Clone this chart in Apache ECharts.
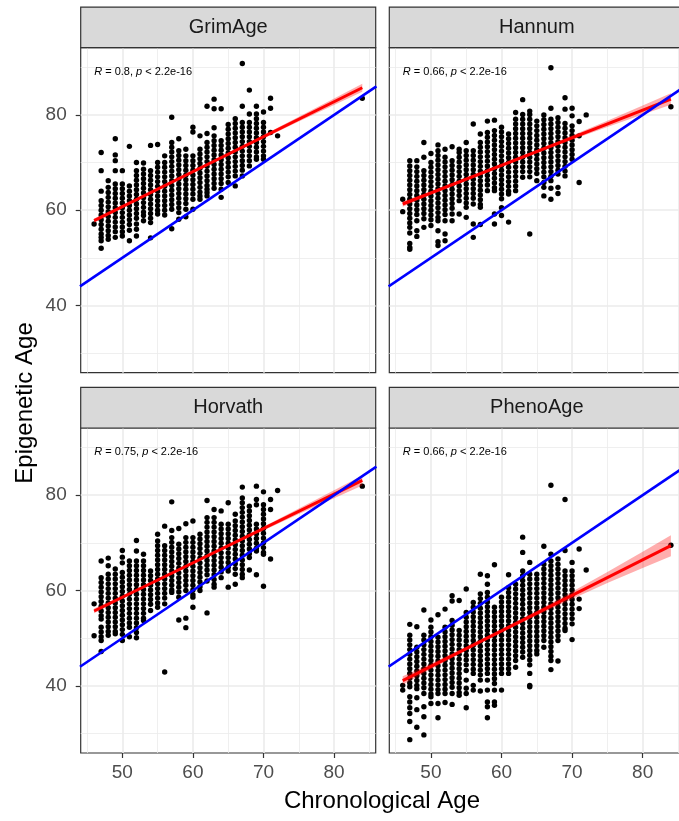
<!DOCTYPE html>
<html>
<head>
<meta charset="utf-8">
<script src="https://cdn.jsdelivr.net/npm/echarts@6/dist/echarts.min.js"></script>
<style>
html, body { margin: 0; padding: 0; background: #fff; }
#main { width: 679px; height: 821px; }
</style>
</head>
<body>
<div id="main"></div>
<script>
/* data */
var panelNames = ['GrimAge', 'Hannum', 'Horvath', 'PhenoAge'];
var corrValues = ['0.8', '0.66', '0.75', '0.66'];
var xMajor = [50, 60, 70, 80];
var xMinor = [45, 55, 65, 75, 85];
var yMajor = [40, 60, 80];
var yMinor = [30, 50, 70, 90];

// [chronological age, [epigenetic ages]]
var grimCols = [
    [46, [57.1]],
    [47, [72.1, 68.3, 64, 62, 61, 60, 59, 58, 57, 56, 55, 54.3, 53.6, 52]],
    [48, [66.2, 64.8, 63.7, 62.7, 61.7, 60.7, 59.7, 58.7, 57.7, 56.7, 55.7, 54.7, 53.9]],
    [49, [75, 71.6, 70.4, 68.3, 65.5, 64.5, 63.5, 62.5, 61.5, 60.5, 59.5, 58.5, 57.5, 56.5, 55.5, 54.3]],
    [50, [68.3, 65.5, 64.5, 63.5, 62.5, 61.5, 60.5, 59.5, 58.5, 57.5, 56.5, 55.5, 54.6]],
    [51, [73.4, 65.1, 64, 63, 62, 61, 60, 59, 58, 57, 55.8, 53.6]],
    [52, [70, 68.3, 67.3, 66.3, 65.3, 64.3, 63.3, 62.3, 61.3, 60.3, 59.3, 58.3, 57.1, 56, 54.6]],
    [53, [69.9, 68.6, 67.6, 66.6, 65.6, 64.6, 63.6, 62.6, 61.6, 60.6, 59.6, 58.9, 57.8]],
    [54, [73.6, 68.3, 67.3, 66.3, 65.3, 64.3, 63.3, 62.3, 61.3, 60.3, 59.3, 58.3, 57.4, 54.2]],
    [55, [73.8, 70, 69, 68, 67, 66, 65, 64, 63, 62, 61, 60, 59.2]],
    [56, [71.4, 70, 69, 68, 67, 66, 65, 64, 63, 62, 61, 60, 59]],
    [57, [79.5, 74.2, 73.2, 72.2, 71.2, 70.2, 69.2, 68.2, 67.2, 66.2, 65.2, 64.2, 63.2, 62.2, 61.2, 60.2, 56.1]],
    [58, [75, 72.5, 71.5, 70.5, 69.5, 68.5, 67.5, 66.5, 65.5, 64.5, 63.5, 62.5, 61.5, 60.5, 59.5, 58.1]],
    [59, [72.8, 71.4, 70.4, 69.4, 68.4, 67.4, 66.4, 65.4, 64.4, 63.4, 62.4, 61.4, 60.2, 58.6]],
    [60, [77.4, 76.4, 71.4, 70.4, 69.4, 68.4, 67.4, 66.4, 65.4, 64.4, 63.4, 62.3, 60.2]],
    [61, [75.6, 72.8, 71.8, 70.8, 69.8, 68.8, 67.8, 66.8, 65.8, 64.8, 63.8, 63, 62.3]],
    [62, [81.8, 76.1, 74.2, 73.2, 72.2, 71.2, 70.2, 69.2, 68.2, 67.2, 66.2, 65.2, 64.4, 63.7, 63]],
    [63, [83.3, 81.3, 77.3, 75.6, 74.6, 73.6, 72.6, 71.6, 70.6, 69.6, 68.6, 67.6, 66.6, 65.6, 64.6]],
    [64, [81.3, 74.6, 73.6, 72.6, 71.6, 70.6, 69.6, 68.6, 67.6, 66.6, 65.6, 64.4, 62.7]],
    [65, [78, 77, 76, 75, 74, 73, 72, 71, 70, 69, 68, 67, 65.8]],
    [66, [79.2, 78.2, 77.2, 76.2, 75.2, 74.2, 73.2, 72.2, 71.2, 70.2, 69.2, 68.2, 67.2, 65.1]],
    [67, [90.8, 81.8, 78.4, 77.4, 76.4, 75.4, 74.4, 73.4, 72.4, 71.4, 70.4, 69.4, 68.4, 67.2]],
    [68, [85.2, 80.2, 78.4, 77.4, 76.4, 75.4, 74.4, 73.4, 72.4, 71.4, 70.4, 69.3]],
    [69, [81.8, 80.2, 79.2, 78.2, 77.2, 76.2, 75.2, 74.2, 73.2, 72.2, 71.2, 70.7]],
    [70, [80.6, 78.4, 77.4, 76.4, 75.4, 74.4, 73.4, 72.4, 71.4, 70.7]],
    [71, [83.5, 81.4, 76.3]],
    [72, [75.6]],
    [84, [83.5]]
];

var hannumCols = [
    [46, [62.3, 59.7]],
    [47, [70.4, 69.3, 68.3, 67.3, 66.3, 65.3, 64.3, 63.3, 62.3, 61.3, 60.3, 59.3, 58.3, 57.3, 56.4, 55.2, 53, 52.2, 51.8]],
    [48, [70.4, 69.1, 68.1, 67.1, 66.1, 65.1, 64.1, 63.1, 62.1, 61.1, 60.1, 59.1, 57.8, 55.7, 54.5]],
    [49, [74.2, 71.1, 68.3, 67.3, 66.3, 65.3, 64.3, 63.3, 62.3, 61.3, 60.3, 59.3, 58.2, 56.4]],
    [50, [71.9, 70, 69, 68, 67, 66, 65, 64, 63, 62, 61, 60, 59, 58, 56.8]],
    [51, [73.7, 72.5, 71.5, 70.5, 69.5, 68.5, 67.5, 66.5, 65.5, 64.5, 63.5, 62.5, 61.5, 60.5, 59.5, 58.5, 57.8, 55.7, 53.4, 52.6]],
    [52, [72.8, 71.1, 70.1, 69.1, 68.1, 67.1, 66.1, 65.1, 64.1, 63.1, 62.1, 61.1, 60.1, 59.1, 57.8, 55, 53.6]],
    [53, [73.3, 70.4, 69.4, 68.4, 67.4, 66.4, 65.4, 64.4, 63.4, 62.4, 61.4, 60.4, 59.2, 57.8]],
    [54, [72.8, 72.1, 71.1, 70.1, 69.1, 68.1, 67.1, 66.1, 65.1, 64.1, 63.1, 62, 59.2]],
    [55, [74.2, 72.5, 71.5, 70.5, 69.5, 68.5, 67.5, 66.5, 65.5, 64.5, 63.5, 62.5, 61.5, 60.6, 58.5]],
    [56, [78.1, 72.5, 71.5, 70.5, 69.5, 68.5, 67.5, 66.5, 65.5, 64.5, 63.5, 62.5, 61.3, 57.1, 54.3]],
    [57, [76, 74.2, 73.2, 72.2, 71.2, 70.2, 69.2, 68.2, 67.2, 66.2, 65.2, 64.2, 63.2, 62.2, 61.2, 60.6, 57]],
    [58, [78.7, 76.3, 75.3, 74.3, 73.3, 72.3, 71.3, 70.3, 69.3, 68.3, 67.3, 66.3, 65.3, 64.1]],
    [59, [78.9, 76.7, 75.7, 74.7, 73.7, 72.7, 71.7, 70.7, 69.7, 68.7, 67.7, 66.7, 65.7, 64.7, 64.1, 59.2, 57.1]],
    [60, [77.4, 76.4, 75.4, 74.4, 73.4, 72.4, 71.4, 70.4, 69.4, 68.4, 67.4, 66.4, 65.4, 64.4, 63.4, 62.4, 60.5, 58.9]],
    [61, [76, 75, 74, 73, 72, 71, 70, 69, 68, 67, 66, 65, 64, 63.4, 57.5]],
    [62, [80.5, 79.1, 78.1, 77.1, 76.1, 75.1, 74.1, 73.1, 72.1, 71.1, 70.1, 69.1, 68.1, 67.1, 66.1, 65.1, 64.1]],
    [63, [83.2, 80.1, 79.1, 78.1, 77.1, 76.1, 75.1, 74.1, 73.1, 72.1, 71.1, 70.1, 69.1, 68.1, 66.9]],
    [64, [80.8, 80.1, 79.1, 78.1, 77.1, 76.1, 75.1, 74.1, 73.1, 72.1, 71.1, 70.1, 69.1, 68.1, 67, 55]],
    [65, [78.7, 77.7, 76.7, 75.7, 74.7, 73.7, 72.7, 71.7, 70.7, 69.7, 68.7, 67.7, 66.2]],
    [66, [80, 79, 78, 77, 76, 75, 74, 73, 72, 71, 70, 69, 68, 67, 65.8, 64.8, 63]],
    [67, [89.9, 81.4, 79.1, 78.1, 77.1, 76.1, 75.1, 74.1, 73.1, 72.1, 71.1, 70.1, 69.1, 68.1, 67.1, 66.2, 64.6, 62.3]],
    [68, [79.4, 78.4, 77.4, 76.4, 75.4, 74.4, 73.4, 72.4, 71.4, 70.4, 69.4, 68.4, 67.6, 64.8, 63.5]],
    [69, [83.6, 81.2, 78.2, 77.2, 76.2, 75.2, 74.2, 73.2, 72.2, 71.2, 70.2, 69.2, 68.2, 67.2]],
    [70, [81.4, 79.8, 77.7, 76.7, 75.7, 74.7, 73.7, 72.7, 71.7, 70.7]],
    [71, [78.6, 75.6, 65.8]],
    [72, [80]],
    [84, [81.7]]
];

var horvathCols = [
    [46, [57.2, 50.5]],
    [47, [66.2, 62.7, 61.7, 60.7, 59.7, 58.7, 57.7, 56.7, 55.7, 54.7, 54, 52.3, 51.3, 50.3, 49.5, 47.2]],
    [48, [66.8, 65.2, 63.4, 62.4, 61.4, 60.4, 59.4, 58.4, 57.4, 56.4, 55.4, 54.4, 53.4, 52.4, 51.4, 50.6]],
    [49, [64.5, 63.4, 62.4, 61.4, 60.4, 59.4, 58.4, 57.4, 56.4, 55.4, 54.4, 53.4, 52.4, 51.4, 50.9]],
    [50, [68.4, 67, 65.8, 63.8, 62.8, 61.8, 60.8, 59.8, 58.8, 57.8, 56.8, 55.8, 54.8, 53.8, 52.8, 51.8, 50.8, 49.5]],
    [51, [66.2, 65.2, 64.2, 63.2, 62.2, 61.2, 60.2, 59.2, 58.2, 57.2, 56.2, 55.2, 54.2, 53.2, 52.3, 50.3]],
    [52, [70.5, 68.3, 66.2, 65.2, 64.2, 63.2, 62.2, 61.2, 60.2, 59.2, 58.2, 57.2, 56.2, 55.2, 54.2, 53.2, 52.2, 51.2, 50.1]],
    [53, [67.6, 66.2, 65.2, 64.2, 63.2, 62.2, 61.2, 60.2, 59.2, 58.2, 57.2, 56.2, 55.2, 54.2, 53.7]],
    [54, [64.1, 63.1, 62.1, 61.1, 60.1, 59.1, 58.1, 57.1, 55.8]],
    [55, [71.8, 70.4, 69.4, 68.4, 67.4, 66.4, 65.4, 64.4, 63.4, 62.4, 61.4, 60.4, 59.4, 58.4, 57.4, 56.5]],
    [56, [73.5, 69.4, 68.4, 67.4, 66.4, 65.4, 64.4, 63.4, 62.4, 61.4, 60.4, 59.4, 58.4, 57.2, 42.9]],
    [57, [78.6, 72.6, 71.1, 70.1, 69.1, 68.1, 67.1, 66.1, 65.1, 64.1, 63.1, 62.1, 61.1, 60.1, 59.6]],
    [58, [73, 69.7, 68.7, 67.7, 66.7, 65.7, 64.7, 63.7, 62.7, 61.7, 60.7, 59.7, 58.6, 53.8]],
    [59, [74, 71.1, 70.1, 69.1, 68.1, 67.1, 66.1, 65.1, 64.1, 63.1, 62.1, 61.1, 60, 54.2, 52.2]],
    [60, [74.6, 71.1, 70.1, 69.1, 68.1, 67.1, 66.1, 65.1, 64.1, 63.1, 62.1, 61.1, 60.1, 59.1, 58.6, 56.5]],
    [61, [71.8, 70.8, 69.8, 68.8, 67.8, 66.8, 65.8, 64.8, 63.8, 62.8, 61.8, 60.8, 60]],
    [62, [78.9, 75.3, 74.3, 73.3, 72.3, 71.3, 70.3, 69.3, 68.3, 67.3, 66.3, 65.3, 64.3, 63.3, 62, 55.3]],
    [63, [77, 75.3, 74.3, 73.3, 72.3, 71.3, 70.3, 69.3, 68.3, 67.3, 66.3, 65.3, 64.3, 63.3, 62.3, 61.3, 60.7]],
    [64, [76.7, 73.9, 72.9, 71.9, 70.9, 69.9, 68.9, 67.9, 66.9, 65.9, 64.9, 63.9, 62.7]],
    [65, [78.4, 73.9, 72.9, 71.9, 70.9, 69.9, 68.9, 67.9, 66.9, 65.9, 64.9, 64.1, 60.7]],
    [66, [76, 74.6, 73.6, 72.6, 71.6, 70.6, 69.6, 68.6, 67.6, 66.6, 65.6, 64.6, 63.4, 61.3]],
    [67, [81.7, 79.4, 78.4, 77.4, 76.4, 75.4, 74.4, 73.4, 72.4, 71.4, 70.4, 69.4, 68.4, 67.4, 66.4, 65.4, 64.4, 63.4, 62.7]],
    [68, [77.7, 76.7, 75.7, 74.7, 73.7, 72.7, 71.7, 70.7, 69.7, 68.7, 67.7, 66.9, 64.3]],
    [69, [81.9, 79.1, 78, 73.9, 72.9, 71.9, 70.9, 69.9, 68.9, 68.3, 63.3]],
    [70, [80.7, 78, 77, 76, 75, 74, 73, 72, 71, 70, 69, 68, 67.6, 60.9]],
    [71, [79.1, 77, 66.6]],
    [72, [81]],
    [84, [81.9]]
];

var phenoCols = [
    [46, [40.1, 39.1]],
    [47, [52.9, 50.6, 49.6, 48.6, 47.6, 46.6, 45.6, 44.6, 43.6, 42.6, 41.6, 40.6, 39.8, 37.7, 36.6, 35.4, 34.2, 32.5, 28.7]],
    [48, [52.4, 48.1, 47.1, 46.1, 45.1, 44.1, 43.1, 42.1, 41.1, 40.1, 39.4, 37.5, 35, 31.3]],
    [49, [55.9, 50.6, 49.6, 48.6, 47.6, 46.6, 45.6, 44.6, 43.6, 42.6, 41.6, 40.6, 39.6, 38.4, 35.6, 33.5, 29.7]],
    [50, [53.8, 52.3, 51.3, 50.3, 49.3, 48.3, 47.3, 46.3, 45.3, 44.3, 43.3, 42.3, 41.3, 40.3, 39.3, 38.3, 37.7, 36.3]],
    [51, [54.9, 50.2, 49.2, 48.2, 47.2, 46.2, 45.2, 44.2, 43.2, 42.2, 41.2, 40.2, 39.2, 38.4, 36.3, 33.3]],
    [52, [56.1, 52.3, 51.3, 50.3, 49.3, 48.3, 47.3, 46.3, 45.3, 44.3, 43.3, 42.3, 41.3, 40.3, 39.3, 38.4, 36.5]],
    [53, [58.9, 57.8, 53.7, 52.7, 51.7, 50.7, 49.7, 48.7, 47.7, 46.7, 45.7, 44.7, 43.7, 42.7, 41.7, 40.7, 39.7, 38.4, 36.1]],
    [54, [57.9, 51.6, 50.6, 49.6, 48.6, 47.6, 46.6, 45.6, 44.6, 43.6, 42.6, 41.6, 40.6, 39.6, 38.6, 38]],
    [55, [60.3, 55.4, 54.4, 53.4, 52.4, 51.4, 50.4, 49.4, 48.4, 47.4, 46.4, 45.4, 44.4, 43.2, 41.2, 39.5, 38.4, 35.4]],
    [56, [57.5, 56.5, 55.5, 54.5, 53.5, 52.5, 51.5, 50.5, 49.5, 48.5, 47.5, 46.5, 45.5, 44.5, 43.5, 42.6, 40.1, 39.1]],
    [57, [63.4, 59.3, 58.3, 57.3, 56.3, 55.3, 54.3, 53.3, 52.3, 51.3, 50.3, 49.3, 48.3, 47.3, 46.3, 45.3, 44.3, 43.3, 42.3, 41.2, 38.9]],
    [58, [63.1, 61.3, 59.6, 58.6, 57.6, 56.6, 55.6, 54.6, 53.6, 52.6, 51.6, 50.6, 49.6, 48.6, 47.6, 46.6, 45.6, 44.6, 43.6, 42.6, 41.2, 39.1, 36.6, 35.6, 33.3]],
    [59, [65.4, 56.5, 55.5, 54.5, 53.5, 52.5, 51.5, 50.5, 49.5, 48.5, 47.5, 46.5, 45.5, 44.5, 43.5, 42.5, 41.5, 40.5, 39.1, 36.6, 35.9]],
    [60, [58.6, 57.6, 56.6, 55.6, 54.6, 53.6, 52.6, 51.6, 50.6, 49.6, 48.6, 47.6, 46.6, 45.6, 44.6, 43.6, 42.6, 39.1]],
    [61, [63.3, 60.6, 59.6, 58.6, 57.6, 56.6, 55.6, 54.6, 53.6, 52.6, 51.6, 50.6, 49.6, 48.6, 47.6, 46.6, 45.6, 44.6, 43.6, 42.6]],
    [62, [61.3, 60.3, 59.3, 58.3, 57.3, 56.3, 55.3, 54.3, 53.3, 52.3, 51.3, 50.3, 49.3, 48.3, 47.3, 46.3, 45.3, 43.9]],
    [63, [71.2, 68, 64.1, 63.1, 62.1, 61.1, 60.1, 59.1, 58.1, 57.1, 56.1, 55.1, 54.1, 53.1, 52.1, 51.1, 50.1, 49.1, 48.1, 47.1, 46]],
    [64, [65.9, 63.4, 62.4, 61.4, 60.4, 59.4, 58.4, 57.4, 56.4, 55.4, 54.4, 53.4, 52.4, 51.4, 50.4, 49.4, 48.4, 47.4, 46.4, 45.4, 44.4, 42.6, 40.1, 39.8]],
    [65, [63.4, 62.4, 61.4, 60.4, 59.4, 58.4, 57.4, 56.4, 55.4, 54.4, 53.4, 52.4, 51.4, 50.4, 49.4, 48.4, 47.4, 46.7]],
    [66, [69.3, 65.5, 64.5, 63.5, 62.5, 61.5, 60.5, 59.5, 58.5, 57.5, 56.5, 55.5, 54.5, 53.5, 52.5, 51.5, 50.5, 49.5, 48.1]],
    [67, [82.1, 67.6, 66.2, 65.2, 64.2, 63.2, 62.2, 61.2, 60.2, 59.2, 58.2, 57.2, 56.2, 55.2, 54.2, 53.2, 52.2, 51.2, 50.2, 49.2, 48.2, 47.2, 46.2, 45.3, 43.4]],
    [68, [66.6, 65.5, 64.5, 63.5, 62.5, 61.5, 60.5, 59.5, 58.5, 57.5, 56.5, 55.5, 54.5, 53.5, 52.5, 51.5, 50.5, 49.5, 45.2]],
    [69, [79.1, 68.4, 64.1, 63.1, 62.1, 61.1, 60.1, 59.1, 58.1, 57.1, 56.1, 55.1, 54.1, 53.1, 52.1, 51.6]],
    [70, [65.9, 64.1, 63.1, 62.1, 61.1, 60.1, 59.1, 58.1, 57.1, 56.1, 55.1, 54.1, 53, 49.7]],
    [71, [68.7, 58.2, 56.2]],
    [72, [64.3]],
    [84, [69.5]]
];

// fitted line ends and its confidence band
var fitLines = [
    [[46, 57.8], [84, 85.7]],
    [[46, 61.3], [84, 83.3]],
    [[46, 55.7], [84, 83.1]],
    [[46, 41.1], [84, 69.4]]
];
var bandX = [46, 50, 55, 60, 65, 70, 75, 80, 84];
var bandLow = [
    [57.35, 60.44, 64.2, 67.88, 71.5, 75.07, 78.59, 82.06, 84.85],
    [60.75, 63.27, 66.27, 69.17, 72.02, 74.77, 77.47, 80.07, 82.14],
    [55.2, 58.25, 61.97, 65.57, 69.12, 72.6, 76.03, 79.36, 82.05],
    [40.2, 43.48, 47.41, 51.13, 54.76, 58.23, 61.56, 64.73, 67.21]
];
var bandHigh = [
    [58.25, 61.04, 64.6, 68.28, 72.0, 75.77, 79.59, 83.46, 86.55],
    [61.85, 63.97, 66.77, 69.67, 72.62, 75.67, 78.77, 81.97, 84.54],
    [56.2, 58.91, 62.41, 66.01, 69.68, 73.4, 77.19, 81.06, 84.15],
    [42.0, 44.68, 48.21, 51.93, 55.76, 59.73, 63.86, 68.13, 71.61]
];
var identityLine = [[44, 44], [86, 86]];

var allCols = [grimCols, hannumCols, horvathCols, phenoCols];

/* layout */
var panelPos = [[80.7, 47.7], [389.3, 47.7], [80.7, 428], [389.3, 428]];
var panelW = 295, panelH = 325, stripH = 40.6;
var fontFam = '"Liberation Sans", Arial, Helvetica, sans-serif';

function toPoints(cols) {
    var pts = [];
    cols.forEach(function (c) {
        c[1].forEach(function (y) { pts.push([c[0], y]); });
    });
    return pts;
}

function bandItem(i) {
    return function (params, api) {
        var pts = [];
        for (var k = 0; k < bandX.length; k++) pts.push(api.coord([bandX[k], bandLow[i][k]]));
        for (var k = bandX.length - 1; k >= 0; k--) pts.push(api.coord([bandX[k], bandHigh[i][k]]));
        return { type: 'polygon', shape: { points: pts }, style: { fill: 'rgba(255,0,0,0.32)' } };
    };
}

var grids = [], xAxes = [], yAxes = [], series = [], graphics = [];

panelNames.forEach(function (name, i) {
    var left = panelPos[i][0], top = panelPos[i][1];
    var isLeft = (i % 2 === 0), isBottom = (i >= 2);
    grids.push({
        left: left, top: top, width: panelW, height: panelH,
        show: true, backgroundColor: '#fff', borderColor: '#333333', borderWidth: 1.2,
        containLabel: false, outerBoundsMode: 'none'
    });
    xAxes.push({
        type: 'value', gridIndex: i, min: 44.1, max: 85.9,
        axisLine: { show: false },
        splitLine: { show: false },
        axisTick: { show: isBottom, length: 5, customValues: xMajor, lineStyle: { color: '#333333', width: 1.2 } },
        axisLabel: { show: isBottom, customValues: xMajor, margin: 10, color: '#4D4D4D', fontSize: 19, fontFamily: fontFam }
    });
    yAxes.push({
        type: 'value', gridIndex: i, min: 25.9, max: 94.1,
        axisLine: { show: false },
        splitLine: { show: false },
        axisTick: { show: isLeft, length: 5, customValues: yMajor, lineStyle: { color: '#333333', width: 1.2 } },
        axisLabel: { show: isLeft, customValues: yMajor, margin: 14, color: '#4D4D4D', fontSize: 19, fontFamily: fontFam }
    });

    var gl = [];
    xMinor.forEach(function (v) { gl.push({ xAxis: v, lineStyle: { width: 0.8 } }); });
    yMinor.forEach(function (v) { gl.push({ yAxis: v, lineStyle: { width: 0.8 } }); });
    xMajor.forEach(function (v) { gl.push({ xAxis: v, lineStyle: { width: 1.6 } }); });
    yMajor.forEach(function (v) { gl.push({ yAxis: v, lineStyle: { width: 1.6 } }); });

    series.push({
        type: 'line', xAxisIndex: i, yAxisIndex: i, data: [], z: 1,
        markLine: {
            silent: true, z: 1, symbol: ['none', 'none'], label: { show: false },
            lineStyle: { color: '#EBEBEB', type: 'solid' },
            data: gl
        }
    });
    series.push({
        type: 'scatter', xAxisIndex: i, yAxisIndex: i, z: 3,
        symbol: 'circle', symbolSize: 5.4,
        itemStyle: { color: '#000000', opacity: 1 },
        data: toPoints(allCols[i])
    });
    series.push({
        type: 'custom', xAxisIndex: i, yAxisIndex: i, z: 4,
        renderItem: bandItem(i),
        data: [[bandX[0], bandLow[i][0]]]
    });
    series.push({
        type: 'line', xAxisIndex: i, yAxisIndex: i, z: 5, symbol: 'none',
        lineStyle: { color: '#FF0000', width: 3 },
        data: fitLines[i]
    });
    series.push({
        type: 'line', xAxisIndex: i, yAxisIndex: i, z: 6, symbol: 'none', clip: true,
        lineStyle: { color: '#0000FF', width: 2.6 },
        data: identityLine
    });

    // facet strip
    graphics.push({
        type: 'rect', z: 10,
        shape: { x: left, y: top - stripH, width: panelW, height: stripH },
        style: { fill: '#D9D9D9', stroke: '#333333', lineWidth: 1.2 }
    });
    graphics.push({
        type: 'text', z: 11, x: left + panelW / 2, y: top - stripH / 2,
        style: {
            text: name, fill: '#1A1A1A', fontSize: 20, fontFamily: fontFam,
            align: 'center', verticalAlign: 'middle', textAlign: 'center', textVerticalAlign: 'middle'
        }
    });
    // correlation note
    graphics.push({
        type: 'text', z: 11, x: left + 13.5, y: top + 24,
        style: {
            text: '{i|R} = ' + corrValues[i] + ', {i|p} < 2.2e-16',
            fill: '#000', fontSize: 11, fontFamily: fontFam,
            align: 'left', verticalAlign: 'middle', textAlign: 'left', textVerticalAlign: 'middle',
            rich: { i: { fontStyle: 'italic', fontSize: 11, fontFamily: fontFam, fill: '#000' } }
        }
    });
});

graphics.push({
    type: 'text', z: 11, x: 382, y: 801,
    style: {
        text: 'Chronological Age', fill: '#000', fontSize: 24, fontFamily: fontFam,
        align: 'center', verticalAlign: 'middle', textAlign: 'center', textVerticalAlign: 'middle'
    }
});
graphics.push({
    type: 'text', z: 11, x: 25, y: 403, rotation: Math.PI / 2,
    style: {
        text: 'Epigenetic Age', fill: '#000', fontSize: 24, fontFamily: fontFam,
        align: 'center', verticalAlign: 'middle', textAlign: 'center', textVerticalAlign: 'middle'
    }
});

var option = {
    animation: false,
    backgroundColor: '#ffffff',
    grid: grids,
    xAxis: xAxes,
    yAxis: yAxes,
    series: series,
    graphic: { elements: graphics }
};

var myChart = echarts.init(document.getElementById('main'), null, { renderer: 'canvas' });
myChart.setOption(option);
</script>
</body>
</html>
